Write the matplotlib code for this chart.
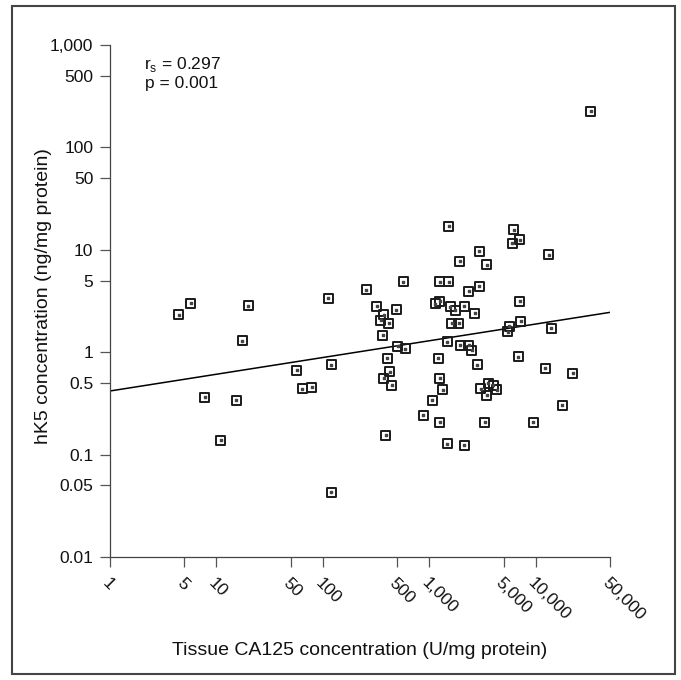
"""
Tissue CA125 vs hK5 concentration, log-log scatter with trend line
"""

import matplotlib
matplotlib.use('Agg')
import matplotlib.pyplot as plt
from matplotlib.patches import Rectangle

plt.rcParams['font.family'] = ['Liberation Sans', 'DejaVu Sans']
plt.rcParams['mathtext.fontset'] = 'custom'
plt.rcParams['mathtext.rm'] = 'Liberation Sans'

# CA125 (U/mg protein)
ca125 = [5.77, 4.45, 19.9, 112.6, 17.5, 56.8, 120.2, 7.76, 15.3, 64.2,
         78.6, 11.0, 120.2,
         1535, 6227, 7135, 6002, 13280, 2957, 1934, 3471, 573, 1263,
         1535, 255, 2341, 2950, 7135, 321, 488, 1141, 1263, 376,
         350, 419, 1575, 1748, 2124, 2667, 1631, 1886, 366, 7291,
         5657, 5502, 14050, 506, 595, 1480, 1960, 2341, 2508, 403,
         1215, 6877, 2844, 428, 376, 444, 1263, 1342, 12337, 22320,
         3585, 4003, 3068, 4337, 3471, 1069, 17710, 880, 1263, 3345,
         9515, 390, 1486, 2124,
         32950]
# hK5 (ng/mg protein)
hk5 = [3.00, 2.31, 2.85, 3.36, 1.29, 0.670, 0.750, 0.365, 0.339, 0.440,
       0.457, 0.138, 0.0431,
       16.96, 15.7, 12.55, 11.65, 8.96, 9.67, 7.72, 7.15, 4.90, 4.90,
       4.90, 4.05, 3.92, 4.41, 3.14, 2.80, 2.59, 2.96, 3.13, 2.33,
       2.06, 1.915, 2.78, 2.58, 2.80, 2.40, 1.915, 1.915, 1.47, 2.00,
       1.79, 1.575, 1.72, 1.137, 1.08, 1.26, 1.17, 1.168, 1.044, 0.872,
       0.872, 0.904, 0.750, 0.645, 0.556, 0.478, 0.556, 0.428, 0.696, 0.622,
       0.500, 0.478, 0.442, 0.428, 0.380, 0.340, 0.303, 0.241, 0.208, 0.208,
       0.208, 0.155, 0.1275, 0.1235,
       226.7]

# trend line end points
fit_x = [1, 50000]
fit_y = [0.418, 2.45]

x_ticks = [1, 5, 10, 50, 100, 500, 1000, 5000, 10000, 50000]
x_labels = ['1', '5', '10', '50', '100', '500', '1,000', '5,000', '10,000',
            '50,000']
y_ticks = [0.01, 0.05, 0.1, 0.5, 1, 5, 10, 50, 100, 500, 1000]
y_labels = ['0.01', '0.05', '0.1', '0.5', '1', '5', '10', '50', '100', '500',
            '1,000']


def main():
    fig = plt.figure(figsize=(6.81, 6.80), dpi=100)
    ax = fig.add_axes([0.1615, 0.1809, 0.7342, 0.7529])

    ax.set_xscale('log')
    ax.set_yscale('log')
    ax.set_xlim(1, 50000)
    ax.set_ylim(0.01, 1000)

    ax.plot(fit_x, fit_y, color='black', lw=1.1, zorder=2)
    ax.scatter(ca125, hk5, marker='s', s=42, facecolors='none',
               edgecolors='#1a1a1a', linewidths=1.4, zorder=3)
    ax.scatter(ca125, hk5, marker='s', s=0.6, color='#444444', zorder=3)

    for side in ['top', 'right']:
        ax.spines[side].set_visible(False)
    for side in ['left', 'bottom']:
        ax.spines[side].set_color('#444444')
        ax.spines[side].set_linewidth(0.9)

    ax.set_xticks(x_ticks)
    ax.set_xticklabels(x_labels, rotation=-45, ha='left', va='top',
                       rotation_mode='anchor')
    ax.set_yticks(y_ticks)
    ax.set_yticklabels(y_labels)
    ax.minorticks_off()
    ax.tick_params(axis='both', length=7, width=0.9, color='#555555',
                   labelsize=12.5, labelcolor='#111111')
    ax.tick_params(axis='y', pad=5)
    ax.tick_params(axis='x', pad=6)

    ax.set_xlabel('Tissue CA125 concentration (U/mg protein)', fontsize=14,
                  color='#111111')
    ax.xaxis.set_label_coords(0.5, -0.166)
    ax.set_ylabel('hK5 concentration (ng/mg protein)', fontsize=14,
                  color='#111111')
    ax.yaxis.set_label_coords(-0.116, 0.51)

    ax.text(0.144, 0.961, r'r$_\mathrm{s}$ = 0.297', transform=ax.transAxes,
            ha='center', va='center', fontsize=12.5, color='#111111')
    ax.text(0.144, 0.925, 'p = 0.001', transform=ax.transAxes,
            ha='center', va='center', fontsize=12.5, color='#111111')

    frame = Rectangle((0.018, 0.0084), 0.973, 0.9828, transform=fig.transFigure,
                      fill=False, edgecolor='#444444', linewidth=1.5)
    fig.patches.append(frame)

    fig.savefig('out.png', dpi=100)


if __name__ == "__main__":
    main()
